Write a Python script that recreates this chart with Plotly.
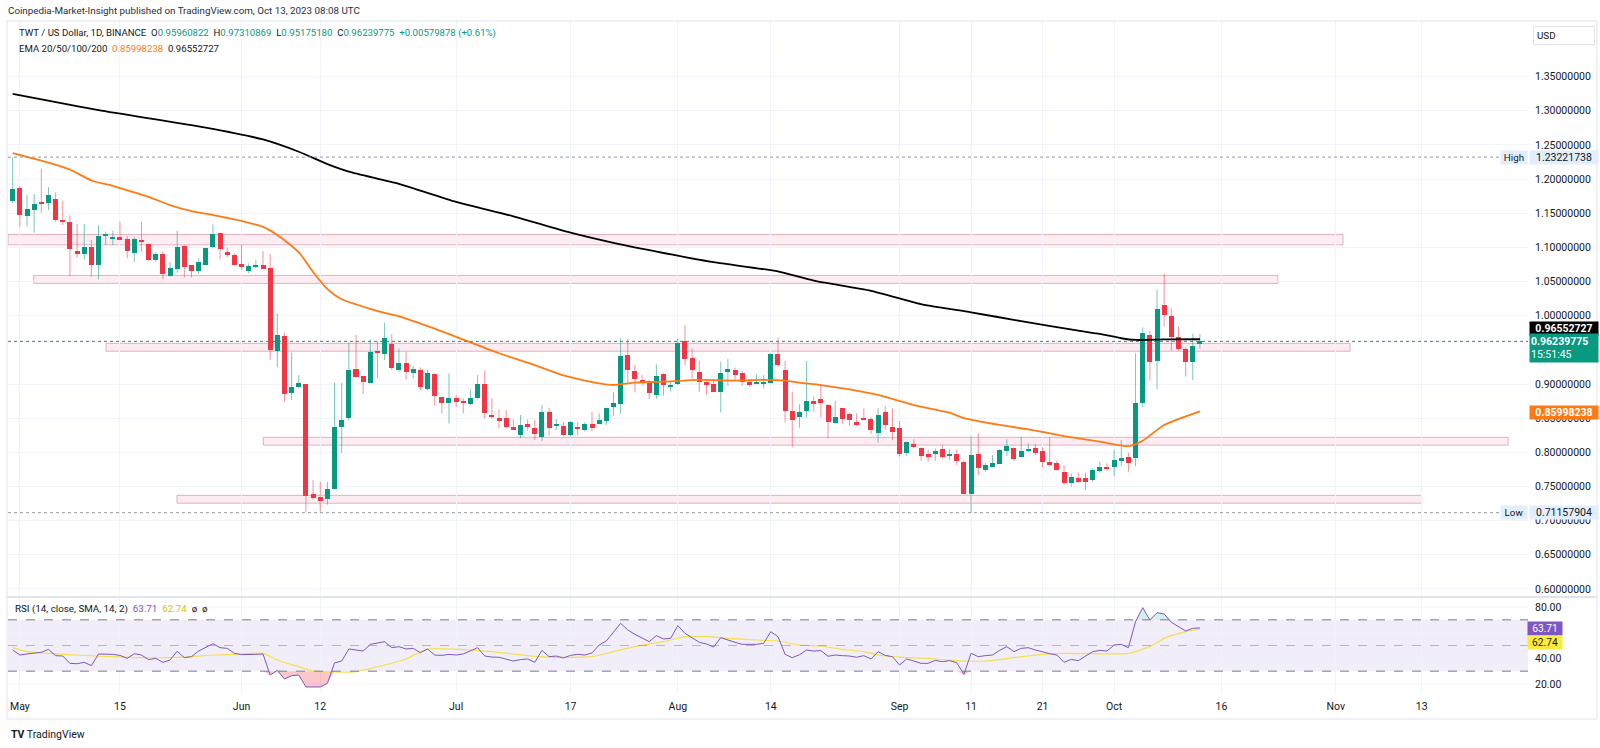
import plotly.graph_objects as go
import pandas as pd

# ---------------- data ----------------
START = "2023-04-30"   # first daily candle

opens = [1.168,1.1864,1.146,1.1542,1.166,1.1645,1.1708,1.1401,1.1376,1.0947,
         1.0898,1.100,1.0737,1.118,1.1122,1.1157,1.1118,1.0913,1.1108,1.1049,
         1.0815,1.0908,1.0586,1.0679,1.102,1.0737,1.0659,1.0747,1.100,1.1205,
         1.0927,1.0893,1.0752,1.0659,1.0727,1.0737,1.0693,0.9488,0.9702,0.8863,
         0.8951,0.900,0.7389,0.7345,0.7311,0.7457,0.8365,0.8497,0.9214,0.9117,
         0.9019,0.9478,0.9434,0.9585,0.9204,0.9312,0.9165,0.9204,0.8921,0.9146,
         0.8804,0.8716,0.879,0.8755,0.8707,0.879,0.900,0.8546,0.8497,0.8497,
         0.8365,0.8253,0.8409,0.836,0.8229,0.8595,0.8385,0.8385,0.8253,0.8375,
         0.8326,0.8409,0.8419,0.8458,0.8668,0.8702,0.9424,0.919,0.9058,0.9044,
         0.8839,0.9141,0.8966,0.8995,0.9629,0.9376,0.918,0.9024,0.8995,0.8878,
         0.919,0.9205,0.9166,0.9024,0.900,0.901,0.902,0.9444,0.9205,0.8605,
         0.8522,0.8605,0.8751,0.878,0.8692,0.8434,0.8643,0.8561,0.8448,0.8483,
         0.8483,0.8278,0.8595,0.8365,0.8351,0.7985,0.8121,0.8058,0.797,0.7975,
         0.8053,0.7951,0.7975,0.7853,0.7389,0.7975,0.7741,0.778,0.7829,0.8024,
         0.8058,0.7926,0.8019,0.8058,0.8024,0.7853,0.7838,0.7716,0.7555,0.7628,
         0.7628,0.7594,0.7731,0.778,0.778,0.7887,0.7926,0.7912,0.8727,0.9718,
         0.9342,1.0157,0.9996,0.9684,0.9508,0.9327,0.95960822]
highs = [1.23221738,1.1899,1.1767,1.1781,1.2157,1.1884,1.1806,1.1679,1.147,1.1342,
         1.1342,1.1108,1.1327,1.123,1.1245,1.1376,1.1166,1.1157,1.1376,1.105,
         1.0927,1.0947,1.079,1.1245,1.103,1.0737,1.0839,1.0996,1.1337,1.1215,
         1.100,1.0913,1.1044,1.0766,1.0815,1.0947,1.0903,1.0034,0.9751,0.9458,
         0.9131,0.900,0.7594,0.757,0.7565,0.9019,0.9019,0.9609,0.9717,0.9117,
         0.9653,0.9624,0.9898,0.9731,0.9522,0.9473,0.9263,0.9243,0.9214,0.9156,
         0.8814,0.9156,0.8838,0.879,0.8921,0.9131,0.9195,0.879,0.8628,0.8619,
         0.8482,0.8546,0.8482,0.8472,0.8692,0.8653,0.8487,0.8439,0.8458,0.8439,
         0.8439,0.8595,0.857,0.8653,0.8878,0.9668,0.9659,0.9278,0.9131,0.9058,
         0.9288,0.9156,0.9034,0.9668,0.9864,0.9522,0.9336,0.9058,0.9073,0.9327,
         0.9366,0.9239,0.919,0.9044,0.9141,0.9131,0.9449,0.9678,0.9337,0.8888,
         0.8702,0.9337,0.8814,0.8999,0.8707,0.8751,0.8643,0.858,0.857,0.8643,
         0.8512,0.8643,0.8678,0.8643,0.8458,0.8155,0.819,0.8072,0.8034,0.8058,
         0.8107,0.8044,0.8044,0.7877,0.8238,0.8278,0.7838,0.796,0.8044,0.819,
         0.8072,0.8229,0.8131,0.8121,0.8072,0.8219,0.7877,0.7814,0.7692,0.7702,
         0.7702,0.7765,0.7863,0.7838,0.8033,0.818,0.7995,0.9449,0.983,0.9776,
         1.0377,1.0611,1.0108,0.984,0.9537,0.9733,0.97310869]
lows = [1.1645,1.1303,1.1303,1.1215,1.1508,1.1547,1.1376,1.1328,1.058,1.0849,
        1.083,1.0571,1.0532,1.1035,1.1035,1.1108,1.0839,1.0786,1.0932,1.0805,
        1.079,1.0532,1.0571,1.063,1.0561,1.0561,1.061,1.0747,1.0986,1.0825,
        1.0854,1.0737,1.0669,1.062,1.0698,1.0688,0.9351,0.9244,0.8741,0.8765,
        0.8936,0.7125,0.7311,0.7120,0.7233,0.7457,0.7994,0.8463,0.9097,0.8853,
        0.9019,0.9083,0.9351,0.9204,0.918,0.9068,0.9082,0.8911,0.8911,0.8692,
        0.857,0.8423,0.8658,0.857,0.8692,0.8775,0.8497,0.8497,0.835,0.835,
        0.8326,0.8204,0.8316,0.818,0.8165,0.8243,0.8326,0.8243,0.8229,0.8243,
        0.8302,0.8312,0.8409,0.840,0.8536,0.857,0.901,0.8878,0.8985,0.878,
        0.878,0.8829,0.8888,0.8985,0.9278,0.9083,0.8887,0.8839,0.8878,0.8585,
        0.8975,0.9034,0.8975,0.896,0.8995,0.8936,0.901,0.9254,0.8438,0.8082,
        0.836,0.8507,0.8595,0.8512,0.8204,0.8424,0.8424,0.8385,0.8385,0.8463,
        0.8268,0.8141,0.8326,0.818,0.7936,0.7946,0.8058,0.7877,0.7863,0.7877,
        0.7912,0.7887,0.7814,0.7389,0.71157904,0.7667,0.7716,0.778,0.7829,0.7946,
        0.7877,0.7926,0.8009,0.7961,0.778,0.780,0.7731,0.7521,0.7497,0.7555,
        0.7448,0.757,0.7702,0.7731,0.7653,0.7799,0.7716,0.7799,0.8659,0.9049,
        0.8922,0.984,0.9489,0.949,0.9108,0.9059,0.9517518]
closes = [1.185,1.1469,1.1557,1.163,1.164,1.1762,1.1401,1.1386,1.0971,1.0908,
          1.1005,1.0737,1.1171,1.119,1.1157,1.1113,1.0947,1.1122,1.1079,1.0815,
          1.0903,1.061,1.0693,1.100,1.0717,1.0659,1.0786,1.0996,1.119,1.0981,
          1.0893,1.0747,1.0713,1.0727,1.0742,1.0688,0.9497,0.9717,0.8853,0.8961,
          0.9009,0.736,0.7335,0.7291,0.7457,0.8375,0.8472,0.9204,0.9107,0.9024,
          0.9473,0.9463,0.9668,0.9229,0.9302,0.918,0.9214,0.895,0.9156,0.8824,
          0.8726,0.879,0.8741,0.8726,0.879,0.900,0.857,0.8511,0.8472,0.8365,
          0.8336,0.840,0.8365,0.8267,0.8595,0.836,0.840,0.8253,0.8448,0.835,
          0.8409,0.836,0.8468,0.8643,0.8717,0.9415,0.9205,0.9073,0.9009,0.8863,
          0.9122,0.8985,0.8985,0.9595,0.9361,0.9205,0.9024,0.8985,0.8887,0.9166,
          0.9219,0.9131,0.9024,0.8995,0.901,0.902,0.9444,0.9278,0.861,0.8473,
          0.8585,0.8751,0.8707,0.8727,0.8448,0.8521,0.8487,0.8473,0.8399,0.8473,
          0.8326,0.8546,0.840,0.8302,0.7975,0.8155,0.8072,0.7951,0.7936,0.8019,
          0.7926,0.7975,0.7872,0.7389,0.796,0.7765,0.7814,0.7848,0.8033,0.8092,
          0.7897,0.8024,0.8043,0.7985,0.7863,0.7809,0.7741,0.7555,0.7633,0.757,
          0.757,0.7741,0.779,0.775,0.7887,0.7912,0.7838,0.8717,0.9752,0.9327,
          1.0094,1.001,0.9693,0.9508,0.9327,0.9557,0.96239775]

# EMA 50 (orange), by candle day offset
ema50_day = [0,5,8,11,14,17,19,22,25,28,31,35,37,40,42,44,46,50,52,54,59,63,68,73,77,82,84,87,
             91,96,101,105,108,110,113,117,121,126,131,133,138,142,147,152,156,158,161,166]
ema50_val = [1.238,1.224,1.214,1.198,1.190,1.1805,1.174,1.162,1.153,1.1474,1.141,1.130,1.118,1.093,
             1.064,1.039,1.024,1.010,1.004,0.999,0.981,0.965,0.945,0.9275,0.9125,0.901,0.8985,0.902,
             0.9034,0.906,0.905,0.906,0.905,0.902,0.8985,0.892,0.884,0.869,0.858,0.850,0.840,0.8336,
             0.8238,0.8155,0.809,0.817,0.840,0.85998238]
# EMA 200 (black)
ema200_day = [0,12,27,35,40,44,47,54,62,70,78,84,91,98,107,112,120,127,134,141,149,152,155,157,161,166]
ema200_val = [1.3247,1.301,1.2754,1.258,1.240,1.222,1.211,1.193,1.1665,1.1455,1.1215,1.1066,1.0918,
              1.0783,1.0648,1.0514,1.0365,1.0171,1.005,0.992,0.978,0.9733,0.967,0.9645,0.9652,0.96552727]

# RSI(14) and its SMA(14)
rsi_day = [0,1,2,4,5,6,7,8,9,10,11,12,14,15,16,17,18,19,20,21,22,23,24,25,26,28,29,30,31,32,34,35,
           36,37,38,39,40,41,42,43,44,45,46,47,48,49,50,51,52,53,54,55,56,57,58,59,60,61,62,63,65,66,
           67,68,70,71,72,73,74,75,76,77,78,79,80,81,82,83,85,86,87,89,90,91,92,93,94,96,97,98,99,101,
           102,104,105,106,107,108,109,110,111,112,113,114,115,116,117,118,119,120,121,122,123,124,125,
           126,127,128,129,130,131,132,133,134,135,136,137,138,139,140,141,142,143,145,146,147,148,149,
           151,152,153,154,155,156,157,158,159,160,161,162,163,164,165,166]
rsi_val = [46.5,42.6,43.4,44.7,47.0,42.1,41.8,36.1,35.8,36.9,34.3,43.4,43.1,42.3,40.0,43.6,42.6,39.0,
           40.0,36.9,38.7,45.5,40.5,41.3,45.7,51.4,48.3,47.8,43.9,42.9,43.1,43.4,27.0,30.6,23.9,26.5,
           27.0,17.7,17.7,17.7,20.5,36.4,37.9,47.3,46.5,45.7,50.9,51.7,53.0,48.3,49.1,47.3,47.8,44.4,
           47.3,42.6,42.3,43.1,42.6,43.4,48.3,41.8,41.0,40.8,37.9,39.0,39.5,36.9,46.2,41.3,41.8,40.3,
           42.3,43.1,42.6,44.2,50.4,53.5,67.3,62.1,58.7,53.0,57.7,55.1,55.6,65.5,59.5,52.5,51.2,48.8,
           56.1,52.5,50.9,50.9,51.7,60.8,56.9,43.1,40.5,42.8,46.5,45.7,46.0,41.6,42.6,42.1,41.8,40.8,
           42.1,39.5,45.2,42.3,41.3,34.8,39.5,37.9,36.1,36.1,38.4,37.4,38.2,36.6,27.5,43.9,41.3,42.1,
           42.6,46.2,49.1,45.2,47.8,48.3,46.5,43.6,42.6,36.9,39.2,38.2,45.2,46.2,45.7,50.4,50.9,48.3,
           68.6,79.5,69.9,75.6,74.6,68.1,64.7,61.3,63.4,63.71]
rsima_day = [0,2,7,12,18,24,28,31,35,37,40,42,45,48,52,55,58,61,64,67,70,73,77,81,84,87,91,94,97,100,
             104,107,110,113,116,119,121,124,129,133,136,140,144,147,151,156,159,161,164,166]
rsima_val = [48.3,45.2,43.1,41.8,40.5,41.0,42.6,43.1,43.9,38.7,33.5,30.1,29.4,29.6,34.8,39.5,47.3,47.3,
             46.5,45.2,43.4,41.6,40.8,41.3,45.2,49.1,53.0,56.9,56.9,55.6,54.3,53.5,50.4,49.6,47.0,45.2,
             42.6,41.0,39.5,37.9,37.9,40.5,43.1,43.9,43.6,43.9,49.1,55.6,60.8,62.74]

# support / resistance zones (start day, end day, bottom, top)
zone_start = [-0.66, 2.94, 13.05, 35.04, 22.97]
zone_end = [186.0, 176.9, 187.0, 209.1, 197.0]
zone_bottom = [1.1037, 1.0473, 0.9480, 0.8105, 0.7255]
zone_top = [1.1188, 1.0590, 0.9595, 0.8219, 0.7370]

high_val = 1.23221738
low_val = 0.71157904
last_close = 0.96239775
ema50_last = 0.85998238
ema200_last = 0.96552727
rsi_last = 63.71
rsima_last = 62.74

# axis ticks (0.95 and 60 sit fully under the price / RSI labels, as on the reference)
price_ticks = [0.60,0.65,0.70,0.75,0.80,0.85,0.90,1.00,1.05,1.10,1.15,1.20,1.25,1.30,1.35]
time_tick_dates = ["2023-05-01","2023-05-15","2023-06-01","2023-06-12","2023-07-01","2023-07-17",
                   "2023-08-01","2023-08-14","2023-09-01","2023-09-11","2023-09-21","2023-10-01",
                   "2023-10-16","2023-11-01","2023-11-13"]
time_tick_labels = ["May","15","Jun","12","Jul","17","Aug","14","Sep","11","21","Oct","16","Nov","13"]
rsi_ticks = [20, 40, 80]
rsi_grid = [20, 40, 60, 80]

# ---------------- helpers ----------------
W, H = 1600, 748
t0 = pd.Timestamp(START)
def day(d):
    return t0 + pd.Timedelta(days=d)
def px(x):
    return x / W
def py(y):
    return 1 - y / H

GREEN = "#089981"
RED = "#F23645"
ORANGE = "#FF7A12"
PURPLE = "#7E57C2"
YELLOW = "#F5DF4D"
TXT = "#131722"
GRID = "#f0f3fa"
FONT = "Roboto"

dates = [day(i) for i in range(len(opens))]

# pixel calibration of the time axis (first candle centre and spacing)
X_FIRST, DX = 12.7, 7.152
X_LEFT, X_RIGHT = 8, 1528
xr = [day((X_LEFT - X_FIRST) / DX), day((X_RIGHT - X_FIRST) / DX)]

fig = go.Figure()

# ---- candles: wicks ----
for up, col in [(True, "rgba(8,153,129,0.55)"), (False, "rgba(242,54,69,0.55)")]:
    wx, wy = [], []
    for d, o, h, l, c in zip(dates, opens, highs, lows, closes):
        if (c >= o) == up:
            wx += [d, d, None]
            wy += [l, h, None]
    fig.add_trace(go.Scatter(x=wx, y=wy, mode="lines", line=dict(color=col, width=1),
                             hoverinfo="skip", showlegend=False, xaxis="x", yaxis="y"))

# ---- candles: bodies ----
body_base = [min(o, c) for o, c in zip(opens, closes)]
body_h = [max(abs(c - o), 0.0016) for o, c in zip(opens, closes)]
body_col = [GREEN if c >= o else RED for o, c in zip(opens, closes)]
fig.add_trace(go.Bar(x=dates, y=body_h, base=body_base, width=0.7 * 86400000,
                     marker=dict(color=body_col, line=dict(width=0)),
                     hoverinfo="skip", showlegend=False, xaxis="x", yaxis="y"))

# ---- EMAs ----
fig.add_trace(go.Scatter(x=[day(d) for d in ema50_day], y=ema50_val, mode="lines",
                         line=dict(color=ORANGE, width=1.8, shape="spline", smoothing=0.6),
                         hoverinfo="skip", showlegend=False, xaxis="x", yaxis="y"))
fig.add_trace(go.Scatter(x=[day(d) for d in ema200_day], y=ema200_val, mode="lines",
                         line=dict(color="#000000", width=1.8, shape="spline", smoothing=0.6),
                         hoverinfo="skip", showlegend=False, xaxis="x", yaxis="y"))

# ---- RSI pane ----
rx = [day(d) for d in rsi_day]
fig.add_trace(go.Scatter(x=rx, y=[30] * len(rx), mode="lines", line=dict(width=0),
                         hoverinfo="skip", showlegend=False, xaxis="x2", yaxis="y2"))
fig.add_trace(go.Scatter(x=rx, y=[min(v, 30) for v in rsi_val], mode="lines", line=dict(width=0),
                         fill="tonexty", fillcolor="rgba(242,54,69,0.28)",
                         hoverinfo="skip", showlegend=False, xaxis="x2", yaxis="y2"))
fig.add_trace(go.Scatter(x=rx, y=[70] * len(rx), mode="lines", line=dict(width=0),
                         hoverinfo="skip", showlegend=False, xaxis="x2", yaxis="y2"))
fig.add_trace(go.Scatter(x=rx, y=[max(v, 70) for v in rsi_val], mode="lines", line=dict(width=0),
                         fill="tonexty", fillcolor="rgba(8,153,129,0.16)",
                         hoverinfo="skip", showlegend=False, xaxis="x2", yaxis="y2"))
fig.add_trace(go.Scatter(x=[day(d) for d in rsima_day], y=rsima_val, mode="lines",
                         line=dict(color=YELLOW, width=1.2, shape="spline", smoothing=0.6),
                         hoverinfo="skip", showlegend=False, xaxis="x2", yaxis="y2"))
fig.add_trace(go.Scatter(x=rx, y=rsi_val, mode="lines", line=dict(color=PURPLE, width=1),
                         hoverinfo="skip", showlegend=False, xaxis="x2", yaxis="y2"))

# ---------------- shapes ----------------
shapes = []
for s, e, b, t in zip(zone_start, zone_end, zone_bottom, zone_top):
    shapes.append(dict(type="rect", xref="x", yref="y", x0=day(s), x1=day(e), y0=b, y1=t,
                       fillcolor="rgba(233,30,99,0.08)", line=dict(color="rgba(205,120,145,0.55)", width=1),
                       layer="below"))
# high / low / last price dotted lines
shapes.append(dict(type="line", xref="paper", yref="y", x0=px(X_LEFT), x1=px(1500), y0=high_val, y1=high_val,
                   line=dict(color="#9598a1", width=1, dash="dot")))
shapes.append(dict(type="line", xref="paper", yref="y", x0=px(X_LEFT), x1=px(1500), y0=low_val, y1=low_val,
                   line=dict(color="#9598a1", width=1, dash="dot")))
shapes.append(dict(type="line", xref="paper", yref="y", x0=px(X_LEFT), x1=px(X_RIGHT), y0=last_close, y1=last_close,
                   line=dict(color=GREEN, width=1, dash="dot")))
# RSI band, levels
shapes.append(dict(type="rect", xref="x2 domain", yref="y2", x0=0, x1=1, y0=30, y1=70,
                   fillcolor="rgba(126,87,194,0.10)", line=dict(width=0), layer="below"))
for lvl, col in [(70, "#787b86"), (30, "#787b86"), (50, "rgba(120,123,134,0.5)")]:
    shapes.append(dict(type="line", xref="x2 domain", yref="y2", x0=0, x1=1, y0=lvl, y1=lvl,
                       line=dict(color=col, width=1, dash="dash")))
for v in rsi_grid:
    shapes.append(dict(type="line", xref="x2 domain", yref="y2", x0=0, x1=1, y0=v, y1=v,
                       line=dict(color=GRID, width=1), layer="below"))
# frame and pane separator
shapes.append(dict(type="rect", xref="paper", yref="paper", x0=px(7), x1=px(1597), y0=py(719), y1=py(21),
                   line=dict(color="#e0e3eb", width=1), fillcolor="rgba(0,0,0,0)"))
shapes.append(dict(type="line", xref="paper", yref="paper", x0=px(7), x1=px(1597), y0=py(597), y1=py(597),
                   line=dict(color="#e0e3eb", width=2)))

# ---------------- annotations ----------------
ann = []
def label(x, y, text, **kw):
    d = dict(xref="paper", yref="paper", x=px(x), y=py(y), text=text, showarrow=False,
             xanchor="left", yanchor="middle", font=dict(family=FONT, size=10, color=TXT))
    d.update(kw)
    ann.append(d)

label(6, 11, "Coinpedia-Market-Insight published on TradingView.com, Oct 13, 2023 08:08 UTC",
      font=dict(family=FONT, size=9.8, color="#2a2e39"))
g = lambda s: f"<span style='color:{GREEN}'>{s}</span>"
label(17, 33, "TWT / US Dollar, 1D, BINANCE&nbsp;&nbsp;O" + g("0.95960822") + "&nbsp;&nbsp;H" + g("0.97310869")
      + "&nbsp;&nbsp;L" + g("0.95175180") + "&nbsp;&nbsp;C" + g("0.96239775") + "&nbsp;&nbsp;"
      + g("+0.00579878 (+0.61%)"), font=dict(family=FONT, size=9.6, color=TXT))
label(17, 48, "EMA 20/50/100/200&nbsp;&nbsp;<span style='color:%s'>%.8f</span>&nbsp;&nbsp;%.8f"
      % (ORANGE, ema50_last, ema200_last), font=dict(family=FONT, size=9.6, color=TXT))
label(13, 609, "RSI (14, close, SMA, 14, 2)&nbsp;&nbsp;<span style='color:%s'>%.2f</span>&nbsp;&nbsp;"
      "<span style='color:#e2c100'>%.2f</span>&nbsp;&nbsp;ø&nbsp;&nbsp;ø" % (PURPLE, rsi_last, rsima_last),
      font=dict(family=FONT, size=9.8, color=TXT))

# USD box
label(1533, 36, "USD", bgcolor="#ffffff", bordercolor="#e0e3eb", borderwidth=1, borderpad=3,
      width=54, align="left", font=dict(family=FONT, size=9.8, color=TXT))

# price labels on the axis
label(1529, 328.3, "<b>%.8f</b>" % ema200_last, bgcolor="#000000", width=66, height=11, align="center",
      font=dict(family=FONT, size=10.5, color="#ffffff"))
label(1529, 348.5, "<b>%.8f</b><br>15:51:45" % last_close, bgcolor=GREEN, width=66, height=26, align="left",
      font=dict(family=FONT, size=10.5, color="#ffffff"))
label(1529, 412.6, "<b>%.8f</b>" % ema50_last, bgcolor=ORANGE, width=66, height=11, align="center",
      font=dict(family=FONT, size=10.5, color="#ffffff"))
for val, name in [(high_val, "High"), (low_val, "Low")]:
    ycen = 315.7 + (1.0 - val) * 683
    label(1500, ycen, name, bgcolor="#e3eefd", width=24, height=11, align="center",
          font=dict(family=FONT, size=9.8, color=TXT))
    label(1529, ycen, "%.8f" % val, bgcolor="#e3eefd", width=66, height=11, align="center",
          font=dict(family=FONT, size=10.5, color=TXT))
# RSI labels
label(1527, 628.3, "%.2f" % rsi_last, bgcolor=PURPLE, width=32, height=11, align="center",
      font=dict(family=FONT, size=10.2, color="#ffffff"))
label(1527, 642.0, "%.2f" % rsima_last, bgcolor="#FFEB3B", width=32, height=11, align="center",
      font=dict(family=FONT, size=10.2, color=TXT))

# TradingView footer
label(9, 734, "<b>TV</b> TradingView", font=dict(family=FONT, size=10.5, color=TXT))

# ---------------- layout ----------------
tickfont = dict(family=FONT, size=10.5, color=TXT)
fig.update_layout(
    width=W, height=H, margin=dict(l=0, r=0, t=0, b=0, autoexpand=False),
    paper_bgcolor="#ffffff", plot_bgcolor="#ffffff",
    showlegend=False, bargap=0, hovermode=False,
    shapes=shapes, annotations=ann,
    xaxis=dict(domain=[px(X_LEFT), px(X_RIGHT)], anchor="y", range=xr, type="date", automargin=False,
               tickvals=time_tick_dates, showticklabels=False, showgrid=True, gridcolor=GRID,
               zeroline=False, showline=False, ticks=""),
    yaxis=dict(domain=[py(597), py(21)], anchor="x", side="right", automargin=False,
               range=[1 - (597 - 315.7) / 683, 1 + (315.7 - 21) / 683],
               tickvals=price_ticks, ticktext=["%.8f" % v for v in price_ticks],
               showgrid=True, gridcolor=GRID, zeroline=False, showline=False, ticks="",
               ticklabelstandoff=6, tickfont=tickfont),
    xaxis2=dict(domain=[px(X_LEFT), px(X_RIGHT)], anchor="y2", range=xr, type="date", automargin=False,
                tickvals=time_tick_dates, ticktext=time_tick_labels, showgrid=True, gridcolor=GRID,
                zeroline=False, showline=False, ticks="", ticklabelstandoff=4, tickfont=tickfont),
    yaxis2=dict(domain=[py(694), py(597)], anchor="x2", side="right", automargin=False,
                range=[20 - (694 - 684) / 1.283, 20 + (684 - 597) / 1.283],
                tickvals=rsi_ticks, ticktext=["%.2f" % v for v in rsi_ticks],
                showgrid=False, zeroline=False, showline=False, ticks="",
                ticklabelstandoff=6, tickfont=tickfont),
)

# the page body must not add its default 8px margin around the 1600x748 figure
fig.write_html("out.html", config={"displayModeBar": False},
               post_script="document.body.style.margin='0';document.body.style.overflow='hidden';")
